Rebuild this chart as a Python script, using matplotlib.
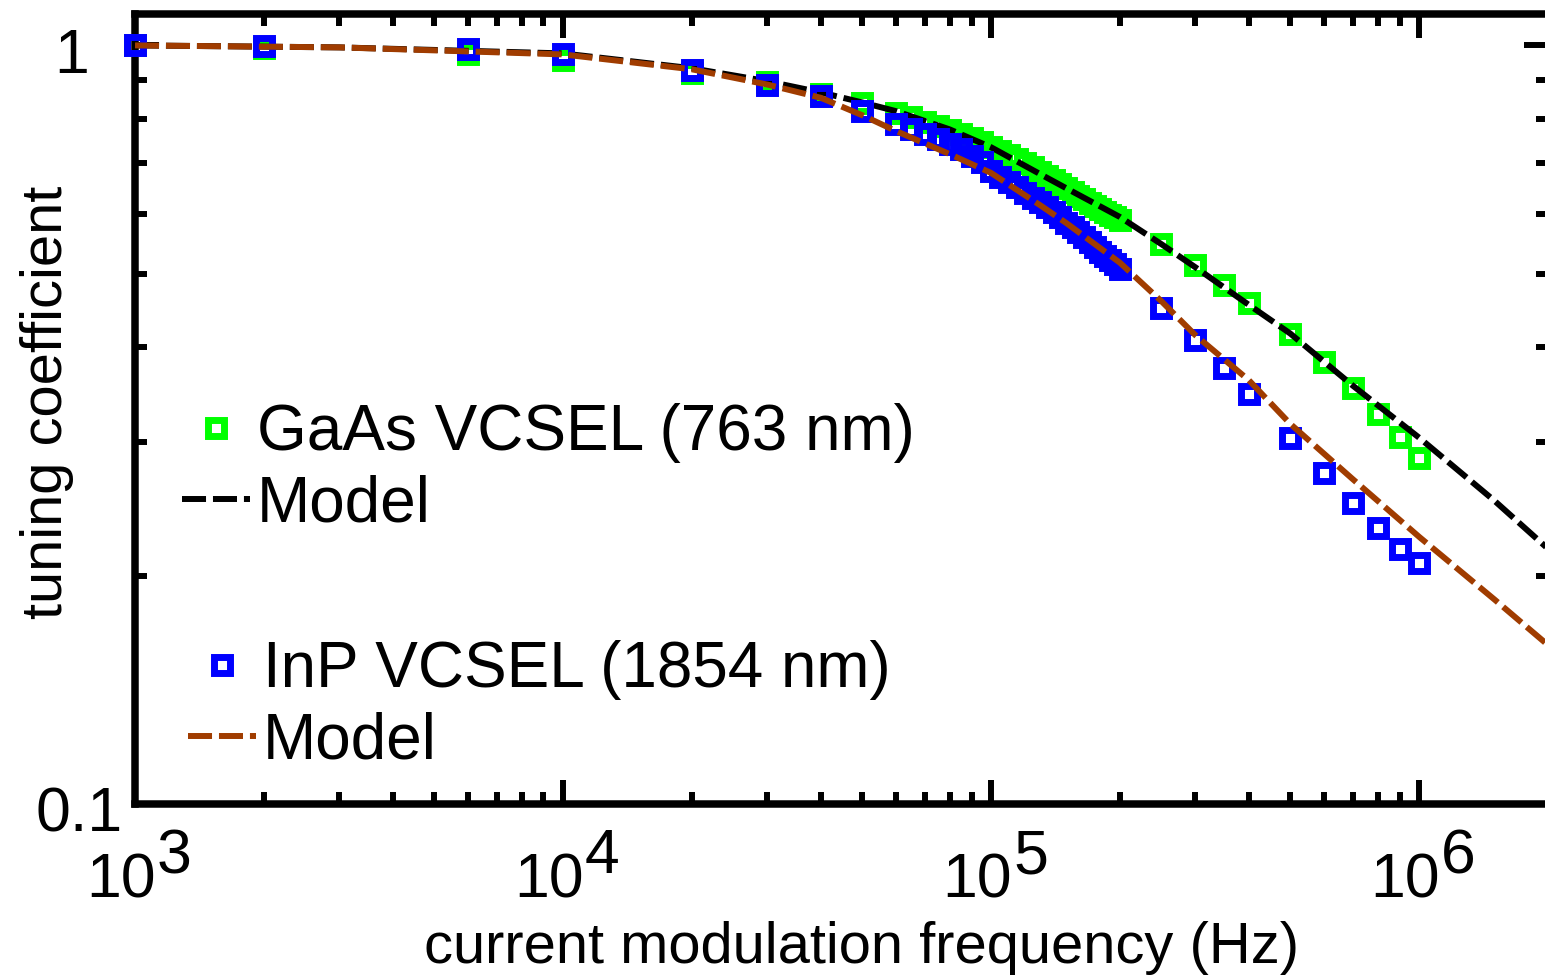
import matplotlib
matplotlib.use('Agg')
import matplotlib.pyplot as plt
from matplotlib.lines import Line2D

plt.rcParams['font.family'] = ['Liberation Sans', 'DejaVu Sans']
plt.rcParams['lines.scale_dashes'] = False

# measured points (Hz) -- same grid for both lasers
freq_meas = [1e3, 2e3, 6e3, 1e4, 2e4, 3e4, 4e4, 5e4,
             6e4, 6.5e4, 7e4, 7.5e4, 8e4, 8.5e4, 9e4, 9.5e4,
             1e5, 1.05e5, 1.1e5, 1.15e5, 1.2e5, 1.25e5, 1.3e5, 1.35e5,
             1.4e5, 1.45e5, 1.5e5, 1.55e5, 1.6e5, 1.65e5, 1.7e5, 1.75e5,
             1.8e5, 1.85e5, 1.9e5, 1.95e5, 2e5,
             2.5e5, 3e5, 3.5e5, 4e5, 5e5, 6e5, 7e5, 8e5, 9e5, 1e6]

gaas_meas = [1.000, 0.991, 0.973, 0.956, 0.921, 0.894, 0.862, 0.839,
             0.814, 0.804, 0.792, 0.782, 0.773, 0.764, 0.754, 0.745,
             0.734, 0.725, 0.717, 0.708, 0.699, 0.691, 0.681, 0.672,
             0.664, 0.656, 0.648, 0.641, 0.633, 0.627, 0.620, 0.614,
             0.608, 0.603, 0.598, 0.594, 0.588,
             0.547, 0.513, 0.483, 0.458, 0.417, 0.382, 0.353, 0.327, 0.305, 0.286]

inp_meas = [1.000, 0.997, 0.988, 0.973, 0.927, 0.888, 0.857, 0.819,
            0.787, 0.775, 0.764, 0.752, 0.741, 0.730, 0.714, 0.702,
            0.683, 0.670, 0.660, 0.650, 0.639, 0.629, 0.621, 0.612,
            0.603, 0.594, 0.583, 0.576, 0.568, 0.559, 0.551, 0.542,
            0.534, 0.528, 0.521, 0.515, 0.507,
            0.451, 0.409, 0.376, 0.347, 0.304, 0.273, 0.249, 0.231, 0.217, 0.208]

# model curves
freq_model = [1e3, 3e3, 1e4, 2e4, 3e4, 4e4, 5e4, 6e4, 8e4, 1e5, 1.3e5, 1.5e5,
              2e5, 2.5e5, 3e5, 4e5, 5e5, 7e5, 1e6, 1.5e6, 2e6]
gaas_model = [1.000, 0.994, 0.976, 0.933, 0.897, 0.867, 0.841, 0.819, 0.775, 0.734,
              0.677, 0.648, 0.594, 0.547, 0.510, 0.455, 0.417, 0.356, 0.304, 0.251, 0.217]
inp_model = [1.000, 0.994, 0.973, 0.930, 0.888, 0.853, 0.809, 0.771, 0.719, 0.679,
             0.616, 0.583, 0.517, 0.460, 0.415, 0.362, 0.317, 0.268, 0.225, 0.186, 0.162]

xtick_vals = [1e3, 1e4, 1e5, 1e6]
xtick_exp = ['3', '4', '5', '6']
ytick_vals = [1.0, 0.1]
ytick_labels = ['1', '0.1']

green = '#00ff00'
blue = '#0000ff'
brown = '#a03c00'

W, H = 1545, 976
fig = plt.figure(figsize=(W / 100, H / 100), dpi=100)
ax = fig.add_axes([135 / W, 1 - 804 / H, (1548 - 135) / W, (804 - 14) / H])
ax.set_xscale('log')
ax.set_yscale('log')
ax.set_xlim(1e3, 2e6)
ax.set_ylim(0.1, 1.1)

mk = dict(ls='none', marker='s', ms=12, mew=5, mfc='none')
dash = (0, (17.3, 5.0))
ax.plot(freq_meas, gaas_meas, mec=green, zorder=3, clip_on=False, **mk)
ax.plot(freq_model, gaas_model, color='black', lw=4.3, ls=dash, zorder=3.1)
ax.plot(freq_meas, inp_meas, mec=blue, zorder=3.2, clip_on=False, **mk)
ax.plot(freq_model, inp_model, color=brown, lw=4.3, ls=dash, zorder=3.3)

for s in ax.spines.values():
    s.set_linewidth(5.4)
ax.tick_params(which='both', direction='in', top=True, right=True, width=4.3,
               labelleft=False, labelbottom=False)
ax.tick_params(which='major', length=17)
ax.tick_params(which='minor', length=8.6)

# tick labels (MATLAB style, full size exponents)
fs = 45
for v, e in zip(xtick_vals, xtick_exp):
    ax.annotate('10', xy=(v, 0), xycoords=('data', 'axes fraction'),
                xytext=(21, -94), textcoords='offset pixels',
                ha='right', va='baseline', fontsize=fs, annotation_clip=False)
    ax.annotate(e, xy=(v, 0), xycoords=('data', 'axes fraction'),
                xytext=(22, -69), textcoords='offset pixels',
                ha='left', va='baseline', fontsize=fs, annotation_clip=False)
ydx = [-46, -12]
for v, lab, dx in zip(ytick_vals, ytick_labels, ydx):
    ax.annotate(lab, xy=(0, v), xycoords=('axes fraction', 'data'),
                xytext=(dx, -28), textcoords='offset pixels',
                ha='right', va='baseline', fontsize=fs, annotation_clip=False)

ax.set_xlabel('current modulation frequency (Hz)', fontsize=41.7)
ax.xaxis.set_label_coords(0.5145, -0.2013)
ax.xaxis.label.set_va('baseline')
ax.set_ylabel('tuning coefficient', fontsize=41.7)
ax.yaxis.set_label_coords(-0.0517, 0.509)
ax.yaxis.label.set_va('baseline')
ax.yaxis.label.set_rotation_mode('anchor')

h1 = [Line2D([], [], mec=green, **mk),
      Line2D([], [], color='black', lw=4.3, ls=dash)]
h2 = [Line2D([], [], mec=blue, **mk),
      Line2D([], [], color=brown, lw=4.3, ls=dash)]
leg_kw = dict(loc='upper left', frameon=False, fontsize=46, handlelength=1.07,
              handletextpad=0.1, labelspacing=0.18, borderpad=0, borderaxespad=0,
              bbox_transform=fig.transFigure)
leg1 = ax.legend(h1, ['GaAs VCSEL (763 nm)', 'Model'],
                 bbox_to_anchor=(182 / W, 1 - 403 / H), **leg_kw)
ax.add_artist(leg1)
ax.legend(h2, ['InP VCSEL (1854 nm)', 'Model'],
          bbox_to_anchor=(188 / W, 1 - 640 / H), **leg_kw)

fig.savefig('out.png', dpi=100)
